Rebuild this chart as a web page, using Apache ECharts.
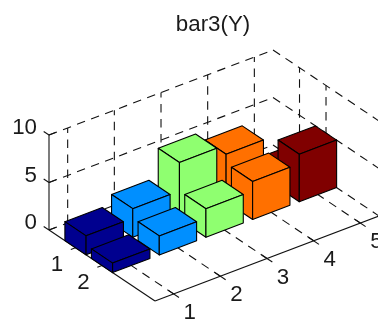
<!DOCTYPE html>
<html>
<head>
<meta charset="utf-8">
<style>
    html, body { margin: 0; padding: 0; background: #fff; }
    #chart { width: 378px; height: 320px; }
</style>
<script src="https://cdn.jsdelivr.net/npm/echarts@6/dist/echarts.min.js"></script>
</head>
<body>
<div id="chart"></div>
<script>
const columns = [1, 2]
const rows = [1, 2, 3, 4, 5]
const zTicks = [0, 5, 10]
const column1 = [2, 3, 6, 5, 1]
const column2 = [1, 2, 3, 4, 5]
const rowColors = ['#00008f', '#008fff', '#8fff70', '#ff7000', '#800000']

const xLim = [0, 4]
const yLim = [0.6, 5.4]
const barHalf = 0.4
const font = '22.3px "Liberation Sans", Arial, sans-serif'

// oblique view of the 3d box, same as the matlab camera in the picture
function project(x, y, z) {
    const dy = y - yLim[0]
    return [49 + 26.5 * x + 46.67 * dy, 230 + 17.75 * x - 17.71 * dy - 9.5 * z]
}

// one entry per bar: [column, row, height, colour index]
const bars = []
columns.forEach((c, ci) => {
    const heights = ci === 0 ? column1 : column2
    rows.slice().reverse().forEach(r => {
        bars.push([c, r, heights[r - 1], r - 1])
    })
})

const gridLines = []
zTicks.forEach(z => {
    gridLines.push([xLim[0], yLim[0], z, xLim[0], yLim[1], z])
    gridLines.push([xLim[0], yLim[1], z, xLim[1], yLim[1], z])
})
rows.forEach(r => {
    gridLines.push([xLim[0], r, 0, xLim[0], r, 10])
    gridLines.push([xLim[0], r, 0, xLim[1], r, 0])
})
columns.forEach(c => {
    gridLines.push([c, yLim[1], 0, c, yLim[1], 10])
    gridLines.push([c, yLim[0], 0, c, yLim[1], 0])
})

const axisLines = [
    [xLim[0], yLim[0], 0, xLim[0], yLim[0], 10],
    [xLim[0], yLim[0], 0, xLim[1], yLim[0], 0],
    [xLim[1], yLim[0], 0, xLim[1], yLim[1], 0]
]
zTicks.forEach(z => {
    axisLines.push([xLim[0], yLim[0], z, xLim[0] - 0.2, yLim[0], z])
    axisLines.push([xLim[0], yLim[0], z, xLim[0], yLim[0] + 0.15, z])
})
columns.forEach(c => {
    axisLines.push([c, yLim[0] - 0.1, 0, c, yLim[0] + 0.1, 0])
})
rows.forEach(r => {
    axisLines.push([xLim[1] - 0.2, r, 0, xLim[1] + 0.2, r, 0])
})

// label text with its anchor on the axis and its pixel offset from there
const labels = []
zTicks.forEach(z => labels.push([String(z), xLim[0], yLim[0], z, -12, -7, 'right']))
columns.forEach(c => labels.push([String(c), c, yLim[0], 0, -18.5, 17, 'center']))
rows.forEach(r => labels.push([String(r), xLim[1], r, 0, 16, 19, 'center']))

function renderSegment(params, api) {
    const from = api.coord(project(api.value(0), api.value(1), api.value(2)))
    const to = api.coord(project(api.value(3), api.value(4), api.value(5)))
    return {
        type: 'line',
        shape: { x1: from[0], y1: from[1], x2: to[0], y2: to[1] },
        style: this.lineStyle
    }
}

function renderBar(params, api) {
    const c = api.value(0)
    const r = api.value(1)
    const h = api.value(2)
    const color = rowColors[api.value(3)]
    const x0 = c - barHalf, x1 = c + barHalf
    const y0 = r - barHalf, y1 = r + barHalf
    const pts = corners => corners.map(p => api.coord(project(p[0], p[1], p[2])))
    const faces = [
        [[x0, y0, h], [x1, y0, h], [x1, y1, h], [x0, y1, h]],
        [[x0, y0, 0], [x1, y0, 0], [x1, y0, h], [x0, y0, h]],
        [[x1, y0, 0], [x1, y1, 0], [x1, y1, h], [x1, y0, h]]
    ]
    return {
        type: 'group',
        children: faces.map(f => ({
            type: 'polygon',
            shape: { points: pts(f) },
            style: { fill: color, stroke: '#000', lineWidth: 1.1, lineJoin: 'round' }
        }))
    }
}

function renderLabel(params, api) {
    const item = labels[params.dataIndex]
    const p = api.coord(project(item[1], item[2], item[3]))
    return {
        type: 'text',
        style: {
            text: item[0],
            x: p[0] + item[4],
            y: p[1] + item[5],
            align: item[6],
            verticalAlign: 'middle',
            font: font,
            fill: '#1a1a1a'
        }
    }
}

const chart = echarts.init(document.getElementById('chart'), null, { renderer: 'canvas' })
chart.setOption({
    animation: false,
    backgroundColor: '#fff',
    title: {
        text: 'bar3(Y)',
        left: 208,
        top: 9,
        textAlign: 'center',
        textStyle: { fontFamily: '"Liberation Sans", Arial, sans-serif', fontSize: 22.3, fontWeight: 'normal', color: '#1a1a1a' }
    },
    grid: { left: 0, right: 0, top: 0, bottom: 0 },
    xAxis: { type: 'value', min: 0, max: 378, show: false },
    yAxis: { type: 'value', min: 0, max: 320, inverse: true, show: false },
    series: [
        {
            type: 'custom',
            silent: true,
            clip: false,
            data: gridLines,
            renderItem: renderSegment.bind({ lineStyle: { stroke: '#111', lineWidth: 1.1, lineDash: [8.5, 6.5] } })
        },
        {
            type: 'custom',
            silent: true,
            clip: false,
            data: axisLines,
            renderItem: renderSegment.bind({ lineStyle: { stroke: '#111', lineWidth: 1.1 } })
        },
        {
            type: 'custom',
            silent: true,
            clip: false,
            data: bars,
            renderItem: renderBar
        },
        {
            type: 'custom',
            silent: true,
            clip: false,
            data: labels.map(l => [l[1], l[2], l[3]]),
            renderItem: renderLabel
        }
    ]
})
</script>
</body>
</html>
